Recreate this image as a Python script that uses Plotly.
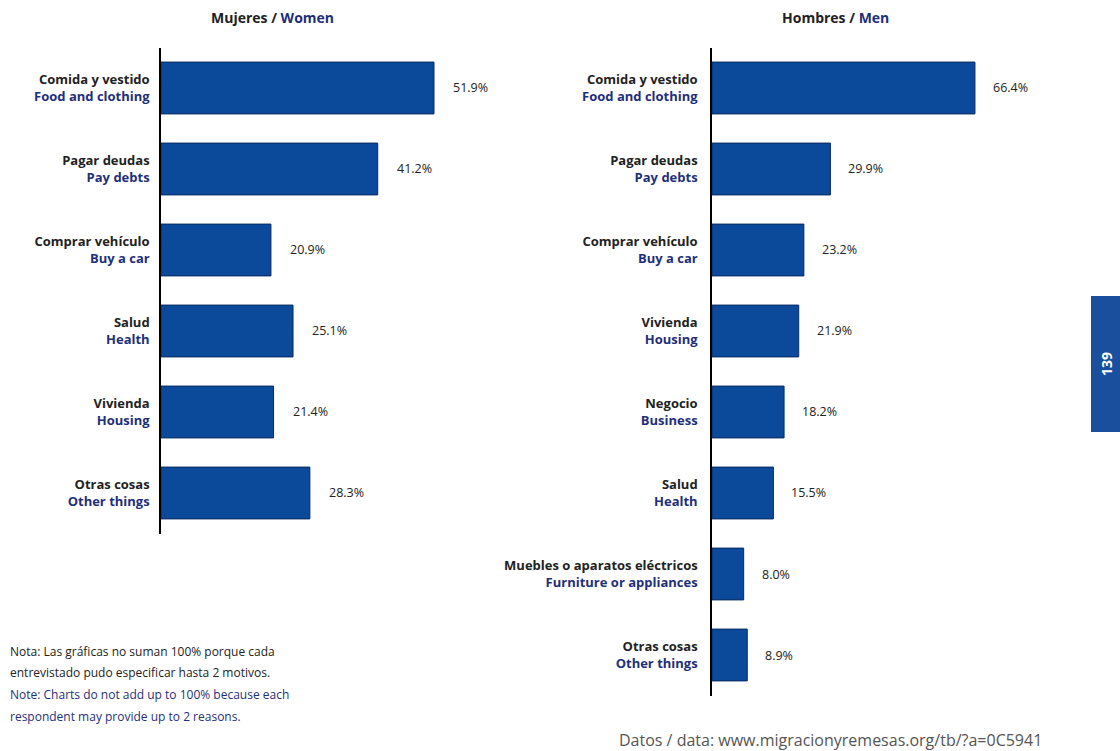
import plotly.graph_objects as go

W, H = 1120, 751

# ---- data ----
women_es = ["Comida y vestido", "Pagar deudas", "Comprar vehículo", "Salud", "Vivienda", "Otras cosas"]
women_en = ["Food and clothing", "Pay debts", "Buy a car", "Health", "Housing", "Other things"]
women_vals = [51.9, 41.2, 20.9, 25.1, 21.4, 28.3]

men_es = ["Comida y vestido", "Pagar deudas", "Comprar vehículo", "Vivienda", "Negocio", "Salud",
          "Muebles o aparatos eléctricos", "Otras cosas"]
men_en = ["Food and clothing", "Pay debts", "Buy a car", "Housing", "Business", "Health",
          "Furniture or appliances", "Other things"]
men_vals = [66.4, 29.9, 23.2, 21.9, 18.2, 15.5, 8.0, 8.9]

note_lines = ["Nota: Las gráficas no suman 100% porque cada",
              "entrevistado pudo especificar hasta 2 motivos.",
              "Note: Charts do not add up to 100% because each",
              "respondent may provide up to 2 reasons."]

BAR = "#0b4a9a"
EDGE = "#072a60"
DARK = "#222222"
NAVY = "#1f2f7a"
FONT = "Open Sans"


def lab(es, en):
    return [f"<b><span style='color:{DARK}'>{a}</span><br><span style='color:{NAVY}'>{b}</span></b>"
            for a, b in zip(es, en)]


def px_x(p):
    return p / W


def px_y(p):
    return 1 - p / H


fig = go.Figure()
fig.add_trace(go.Bar(x=women_vals, y=lab(women_es, women_en), orientation="h",
                     marker=dict(color=BAR, line=dict(color=EDGE, width=1)),
                     width=0.64, xaxis="x", yaxis="y", hoverinfo="skip"))
fig.add_trace(go.Bar(x=men_vals, y=lab(men_es, men_en), orientation="h",
                     marker=dict(color=BAR, line=dict(color=EDGE, width=1)),
                     width=0.64, xaxis="x2", yaxis="y2", hoverinfo="skip"))

annotations = []
for v, c in zip(women_vals, lab(women_es, women_en)):
    annotations.append(dict(x=v, y=c, xref="x", yref="y", text=f"{v:.1f}%", showarrow=False,
                            xanchor="left", xshift=17, font=dict(size=12.5, color=DARK, family=FONT)))
for v, c in zip(men_vals, lab(men_es, men_en)):
    annotations.append(dict(x=v, y=c, xref="x2", yref="y2", text=f"{v:.1f}%", showarrow=False,
                            xanchor="left", xshift=16, font=dict(size=12.5, color=DARK, family=FONT)))

annotations += [
    dict(x=px_x(272), y=px_y(18), xref="paper", yref="paper", showarrow=False,
         xanchor="center", yanchor="middle",
         text=f"<b><span style='color:{DARK}'>Mujeres / </span><span style='color:{NAVY}'>Women</span></b>",
         font=dict(size=14, family=FONT)),
    dict(x=px_x(835), y=px_y(18), xref="paper", yref="paper", showarrow=False,
         xanchor="center", yanchor="middle",
         text=f"<b><span style='color:{DARK}'>Hombres / </span><span style='color:{NAVY}'>Men</span></b>",
         font=dict(size=14, family=FONT)),
    dict(x=px_x(617), y=px_y(740), xref="paper", yref="paper", showarrow=False,
         xanchor="left", yanchor="middle",
         text="Datos / data: www.migracionyremesas.org/tb/?a=0C5941",
         font=dict(size=16, color="#555555", family=FONT)),
    dict(x=px_x(1106), y=px_y(364), xref="paper", yref="paper", showarrow=False,
         xanchor="center", yanchor="middle",
         text="<b>139</b>", textangle=-90, font=dict(size=14, color="white", family=FONT)),
]
for i, (ln, yy) in enumerate(zip(note_lines, [651, 672, 694, 716])):
    annotations.append(dict(x=px_x(8), y=px_y(yy), xref="paper", yref="paper", showarrow=False,
                            xanchor="left", yanchor="middle", text=ln,
                            font=dict(size=12, family=FONT, color=DARK if i < 2 else NAVY)))

shapes = [dict(type="rect", xref="paper", yref="paper", x0=px_x(1091), x1=1.0,
               y0=px_y(432), y1=px_y(296), fillcolor="#1a4f9e", line=dict(width=0))]

L_PX = 5.26
R_PX = 3.96
fig.update_layout(
    width=W, height=H, margin=dict(l=0, r=0, t=0, b=0),
    paper_bgcolor="white", plot_bgcolor="white", showlegend=False,
    font=dict(family=FONT, size=13),
    xaxis=dict(domain=[px_x(161), px_x(161 + 70 * L_PX)], range=[0, 70], visible=False),
    yaxis=dict(domain=[px_y(533.5), px_y(47.5)], autorange="reversed", showline=True,
               linecolor="black", linewidth=1.5, ticks="outside", ticklen=7,
               tickcolor="rgba(0,0,0,0)", showgrid=False, tickfont=dict(size=13, family=FONT),
               anchor="x"),
    xaxis2=dict(domain=[px_x(712), px_x(712 + 80 * R_PX)], range=[0, 80], visible=False,
                anchor="y2"),
    yaxis2=dict(domain=[px_y(695.5), px_y(47.5)], autorange="reversed", showline=True,
                linecolor="black", linewidth=1.5, ticks="outside", ticklen=10,
                tickcolor="rgba(0,0,0,0)", showgrid=False, tickfont=dict(size=13, family=FONT),
                anchor="x2"),
    annotations=annotations, shapes=shapes,
)

fig.write_html("out.html", config={"displayModeBar": False},
               post_script="document.body.style.margin='0';document.body.style.overflow='hidden';")
